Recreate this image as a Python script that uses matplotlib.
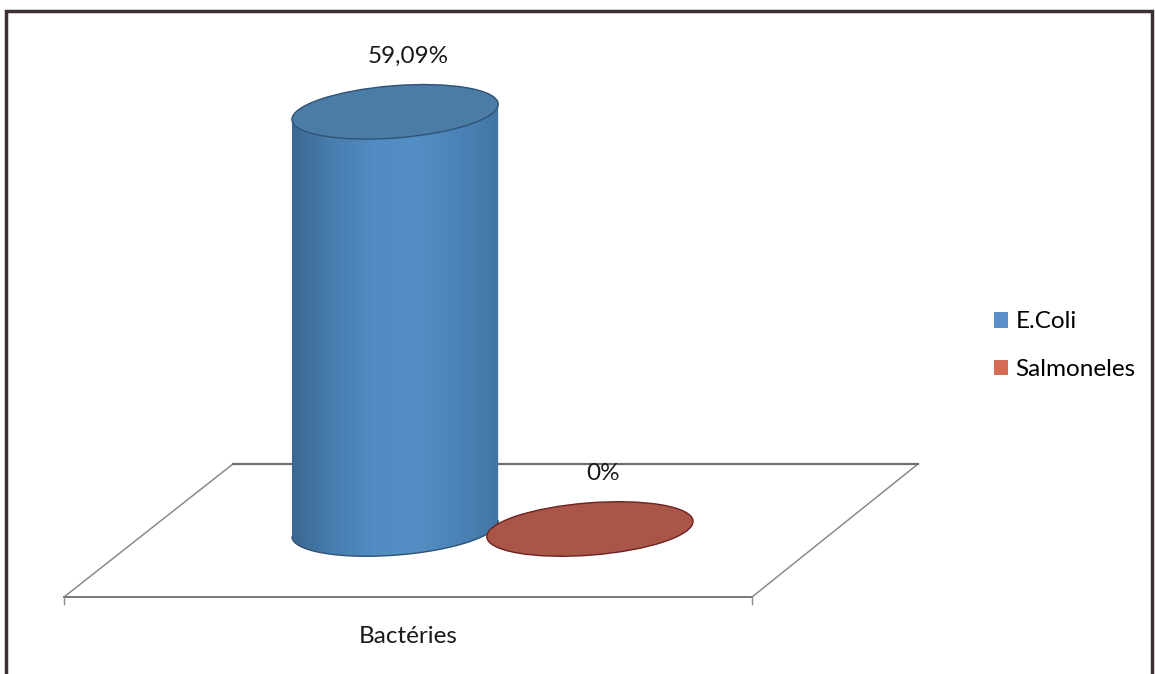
import numpy as np
import matplotlib
matplotlib.use("Agg")
import matplotlib.pyplot as plt
from matplotlib.patches import Ellipse, Polygon, Rectangle
from matplotlib.colors import LinearSegmentedColormap

# data
category = "Bactéries"
series = ["E.Coli", "Salmoneles"]
values = [59.09, 0.0]
value_labels = ["59,09%", "0%"]

# look of the excel style 3d cylinders
side_colors = [["#3a658c", "#477daf", "#518cc2", "#538ec4", "#4b83b7", "#4174a2"],
               ["#8e4438", "#a85446", "#b25d4d", "#a85446", "#9a4b3f", "#8a4236"]]
top_colors = ["#4a7ca6", "#a95548"]
edge_colors = ["#2f5275", "#6b2220"]
legend_colors = ["#5b90c9", "#d46b55"]

plt.rcParams['font.family'] = ['Lato', 'DejaVu Sans']

fig = plt.figure(figsize=(11.55, 6.74), dpi=100)
ax = fig.add_axes([0, 0, 1, 1])
# y axis in percent, x in the same units so ellipses keep their shape
ax.set_xlim(-69.76, 93.84)
ax.set_ylim(-20.54, 74.93)
ax.axis("off")

offsets = [-13.8, 13.8]   # series position inside the category
a, b = 14.65, 3.7          # cylinder radius and ellipse half height
tilt = np.radians(4.5)


def ellipse_pts(cx, cy, t):
    x = a * np.cos(t)
    y = b * np.sin(t)
    return (cx + x * np.cos(tilt) - y * np.sin(tilt),
            cy + x * np.sin(tilt) + y * np.cos(tilt))


# floor of the 3d chart
floor_back, floor_front = 9.21, -9.63
floor = [(-36.76, floor_back), (60.27, floor_back), (36.76, floor_front), (-60.69, floor_front)]
ax.add_patch(Polygon(floor, closed=True, fill=False, ec="#8a8a8a", lw=1.1, zorder=1))
ax.plot([-36.76, 60.27], [floor_back, floor_back], color="#6e6e6e", lw=1.6, zorder=1)
ax.plot([-60.69, 36.76], [floor_front, floor_front], color="#7a7a7a", lw=1.4, zorder=1)
for xx in [-60.69, 36.76]:
    ax.plot([xx, xx], [floor_front, floor_front - 1.0], color="#8a8a8a", lw=1.0, zorder=1)

t = np.linspace(np.pi, 2 * np.pi, 120)
for i, v in enumerate(values):
    cx = offsets[i]
    if v > 0:
        bx, by = ellipse_pts(cx, 0, t)
        tx, ty = ellipse_pts(cx, v, t[::-1])
        body = Polygon(np.column_stack([np.r_[bx, tx], np.r_[by, ty]]), closed=True,
                       fc="none", ec="none", zorder=3)
        ax.add_patch(body)
        cmap = LinearSegmentedColormap.from_list("side%d" % i, side_colors[i])
        grad = np.linspace(0, 1, 256)[np.newaxis, :]
        im = ax.imshow(grad, cmap=cmap, aspect="auto", zorder=3,
                       extent=[cx - a - 0.5, cx + a + 0.5, -b - 2, v + b + 2])
        im.set_clip_path(body)
        ax.plot(bx, by, color=edge_colors[i], lw=1.0, zorder=4)
    ax.add_patch(Ellipse((cx, v), 2 * a, 2 * b, angle=np.degrees(tilt),
                         fc=top_colors[i], ec=edge_colors[i], lw=1.0, zorder=5))
    ax.text(cx + 1.8, v + 7.8, value_labels[i], ha="center", va="center",
            fontsize=17.5, color="#1a1a1a", zorder=6)

ax.text((-60.69 + 36.76) / 2, floor_front - 5.6, category, ha="center", va="center",
        fontsize=17.5, color="#1a1a1a")

handles = [Rectangle((0, 0), 1, 1, fc=c, ec="none") for c in legend_colors]
leg = ax.legend(handles, series, loc="center left", bbox_to_anchor=(0.852, 0.487),
                frameon=False, fontsize=17.5, handlelength=0.6, handleheight=0.6,
                handletextpad=0.3, labelspacing=1.1, borderaxespad=0)

# dark frame of the scanned chart
fig.patches.append(Rectangle((6 / 1155, -0.05), (1152 - 6) / 1155, 1 - 11 / 674 + 0.05,
                             transform=fig.transFigure, fill=False, ec="#3b3036", lw=2.5))

fig.savefig("out.png", dpi=100)
